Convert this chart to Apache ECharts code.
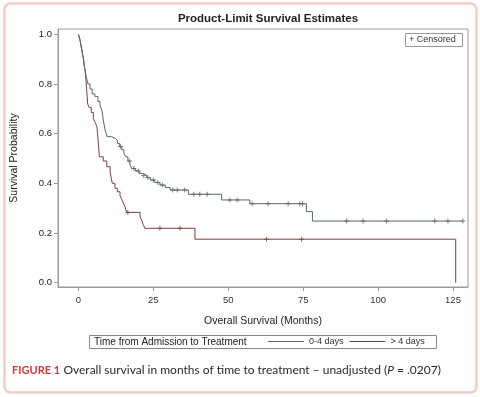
<!DOCTYPE html>
<html>
<head>
<meta charset="utf-8">
<script src="https://cdn.jsdelivr.net/npm/echarts@6/dist/echarts.min.js"></script>
<style>
  html, body { margin: 0; padding: 0; background: #fff; }
  #chart { width: 480px; height: 397px; }
</style>
</head>
<body>
<div id="chart"></div>
<script>
// axis ticks
const xTicks = [0, 25, 50, 75, 100, 125];
const yTicks = [0, 0.2, 0.4, 0.6, 0.8, 1.0];

// 0-4 days: event times (months) and survival after each step
const earlyTime = [0, 0.5, 0.8, 1.1, 1.4, 1.7, 2.0, 2.3, 2.6, 3.2, 3.9, 4.6, 5.5, 6.5, 7.2, 7.8, 8.1, 8.3, 8.6, 8.9, 9.3, 9.6,
  11.0, 12.3, 13.0, 13.8, 14.5, 15.2, 15.8, 16.5, 17.2, 17.8, 19.0, 20.3, 21.5, 22.8, 24.0, 25.5, 27.2, 29.0, 30.6,
  36.7, 47.8, 57.2, 76.1, 78.1, 128.3];
const earlySurv = [1.0, 0.98, 0.96, 0.94, 0.92, 0.90, 0.87, 0.85, 0.83, 0.80, 0.78, 0.76, 0.75, 0.73, 0.715, 0.695, 0.675, 0.655, 0.635, 0.615, 0.60, 0.588,
  0.581, 0.574, 0.561, 0.548, 0.535, 0.52, 0.507, 0.49, 0.475, 0.46, 0.45, 0.44, 0.432, 0.423, 0.413, 0.403, 0.393, 0.383, 0.373,
  0.356, 0.333, 0.318, 0.286, 0.248, 0.248];
const earlyCensor = [14.0, 17.0, 18.5, 20.0, 21.8, 23.2, 25.0, 26.5, 28.0, 31.5, 33.0, 35.5, 38.5, 40.5, 43.0, 50.5, 53.0,
  58.0, 63.3, 70.0, 73.9, 74.8, 89.5, 95.0, 102.8, 118.9, 123.3, 128.3];

// > 4 days
const lateTime = [0, 0.5, 0.8, 1.1, 1.4, 1.7, 2.0, 2.3, 2.5, 2.8, 3.1, 3.6, 4.3, 5.0, 5.6, 6.2, 6.4, 6.6, 6.8, 7.0,
  8.3, 9.5, 10.6, 11.0, 11.3, 12.2, 13.0, 13.9, 14.5, 15.0, 15.6, 16.1, 20.6, 21.1, 21.6, 22.2, 38.9, 125.9];
const lateSurv = [1.0, 0.98, 0.96, 0.94, 0.92, 0.90, 0.87, 0.85, 0.82, 0.77, 0.72, 0.705, 0.685, 0.66, 0.645, 0.628, 0.60, 0.57, 0.54, 0.507,
  0.49, 0.467, 0.445, 0.42, 0.40, 0.38, 0.366, 0.35, 0.335, 0.32, 0.305, 0.283, 0.265, 0.252, 0.235, 0.219, 0.175, 0.0];
const lateCensor = [16.5, 27.2, 33.9, 62.8, 74.5];

const groups = ['0-4 days', '> 4 days'];
const colors = ['#5d6464', '#7a3d44'];

function survAt(times, surv, t) {
  let s = surv[0];
  for (let i = 0; i < times.length; i++) {
    if (times[i] <= t) s = surv[i];
  }
  return s;
}

const plusIcon = 'path://M4,0h2v10h-2z M0,4h10v2h-10z';

const chart = echarts.init(document.getElementById('chart'));

const option = {
  animation: false,
  backgroundColor: '#fff',
  textStyle: { fontFamily: 'Liberation Sans, Arial, sans-serif' },
  title: {
    text: 'Product-Limit Survival Estimates',
    left: 263,
    top: 8,
    textAlign: 'center',
    textStyle: { fontSize: 11.5, fontWeight: 'bold', color: '#222', fontFamily: 'Liberation Sans, Arial, sans-serif' }
  },
  grid: {
    left: 58, top: 29, right: 12, bottom: 110,
    show: true, borderColor: '#9a9a9a', borderWidth: 1, backgroundColor: 'transparent'
  },
  legend: {
    data: groups,
    left: 268,
    top: 337,
    itemWidth: 36,
    itemHeight: 1,
    itemGap: 6,
    icon: 'rect',
    padding: 0,
    textStyle: { fontSize: 9, color: '#333' }
  },
  xAxis: {
    type: 'value',
    min: -6.8,
    max: 130,
    name: 'Overall Survival (Months)',
    nameLocation: 'middle',
    nameGap: 29,
    nameTextStyle: { fontSize: 10.5, color: '#222' },
    splitLine: { show: false },
    axisLine: { onZero: false, lineStyle: { color: '#9a9a9a' } },
    axisTick: { show: true, length: 4, customValues: xTicks, lineStyle: { color: '#9a9a9a' } },
    axisLabel: { customValues: xTicks, fontSize: 9.5, color: '#333', margin: 8 }
  },
  yAxis: {
    type: 'value',
    min: -0.0175,
    max: 1.0215,
    name: 'Survival Probability',
    nameLocation: 'middle',
    nameGap: 38,
    nameTextStyle: { fontSize: 10.5, color: '#222' },
    splitLine: { show: false },
    axisLine: { show: true, onZero: false, lineStyle: { color: '#9a9a9a' } },
    axisTick: { show: true, length: 4, customValues: yTicks, lineStyle: { color: '#9a9a9a' } },
    axisLabel: { customValues: yTicks, fontSize: 9.5, color: '#222', margin: 6, formatter: v => v.toFixed(1) }
  },
  series: [
    {
      name: groups[0], type: 'line', step: 'end', showSymbol: false, z: 3,
      color: colors[0], lineStyle: { width: 1, color: colors[0] },
      data: earlyTime.map((t, i) => [t, earlySurv[i]])
    },
    {
      name: groups[1], type: 'line', step: 'end', showSymbol: false, z: 2,
      color: colors[1], lineStyle: { width: 1, color: colors[1] },
      data: lateTime.map((t, i) => [t, lateSurv[i]])
    },
    {
      name: 'Censored', type: 'scatter', symbol: plusIcon, symbolSize: 5, z: 4,
      itemStyle: { color: colors[0] },
      data: earlyCensor.map(t => [t, survAt(earlyTime, earlySurv, t)])
    },
    {
      name: 'Censored', type: 'scatter', symbol: plusIcon, symbolSize: 5, z: 4,
      itemStyle: { color: colors[1] },
      data: lateCensor.map(t => [t, survAt(lateTime, lateSurv, t)])
    }
  ],
  graphic: [
    // outer pink frame
    {
      type: 'rect', silent: true,
      shape: { x: 4.5, y: 3.5, width: 472, height: 389, r: 6 },
      style: { fill: 'none', stroke: '#efcfc5', lineWidth: 2.5 }
    },
    // censored legend
    {
      type: 'rect', silent: true,
      shape: { x: 405.5, y: 33.5, width: 57, height: 13 },
      style: { fill: '#fff', stroke: '#9a9a9a', lineWidth: 1 }
    },
    {
      type: 'text', silent: true, x: 409, y: 40,
      style: { text: '+ Censored', fontSize: 9, fill: '#333', verticalAlign: 'middle', fontFamily: 'Liberation Sans, Arial, sans-serif' }
    },
    // group legend box
    {
      type: 'rect', silent: true,
      shape: { x: 89.5, y: 335.5, width: 347, height: 13 },
      style: { fill: 'none', stroke: '#888', lineWidth: 1 }
    },
    {
      type: 'text', silent: true, x: 94, y: 342.5,
      style: { text: 'Time from Admission to Treatment', fontSize: 10, fill: '#222', verticalAlign: 'middle', fontFamily: 'Liberation Sans, Arial, sans-serif' }
    },
    // figure caption
    {
      type: 'text', silent: true, x: 12, y: 370,
      style: {
        text: '{f|FIGURE 1} {t|Overall survival in months of time to treatment – unadjusted (}{i|P}{t| = .0207)}',
        verticalAlign: 'middle',
        rich: {
          f: { fontSize: 11, fontWeight: 'bold', fill: '#d6373b', fontFamily: 'Lato, sans-serif' },
          t: { fontSize: 12, fill: '#2a2a2a', fontFamily: 'Lato, sans-serif' },
          i: { fontSize: 12, fill: '#2a2a2a', fontStyle: 'italic', fontFamily: 'Lato, sans-serif' }
        }
      }
    }
  ]
};

chart.setOption(option);
</script>
</body>
</html>
